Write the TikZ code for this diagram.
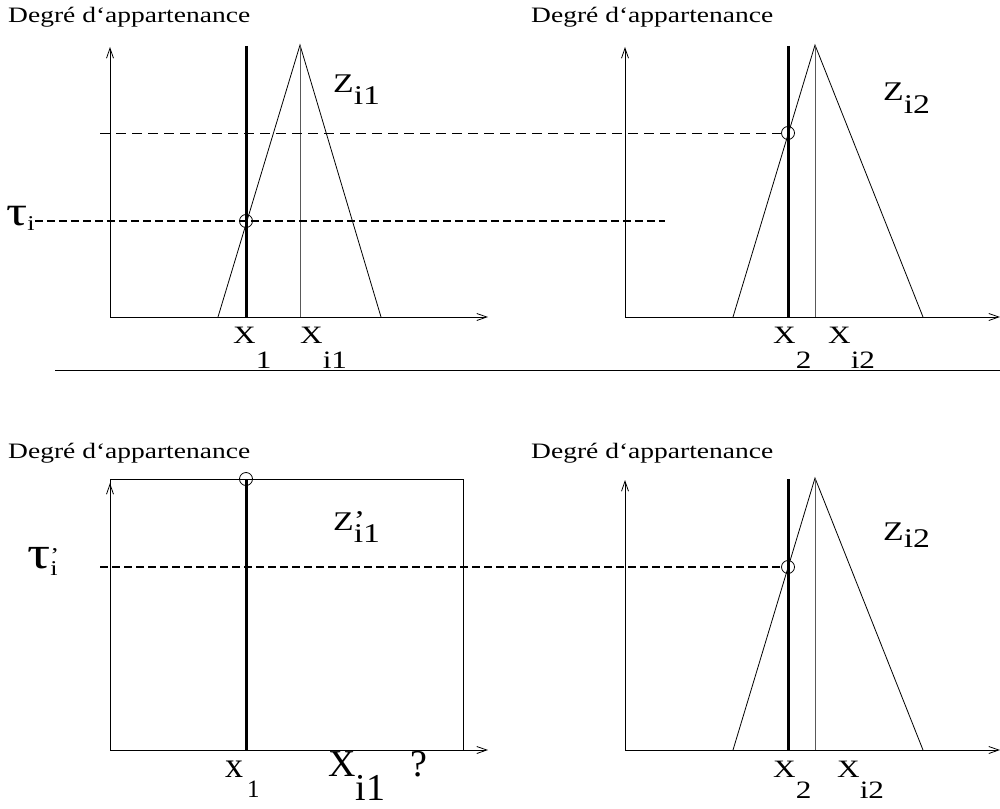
\documentclass[tikz,border=0pt]{standalone}
\usepackage{fontspec}
\setmainfont{Liberation Serif}
\newfontfamily\widefont[FakeStretch=1.25]{Liberation Serif}
\usetikzlibrary{arrows.meta}

\begin{document}
\begin{tikzpicture}[x=1pt,y=-1pt,
  every node/.style={inner sep=0pt,anchor=base west},
  degre/.style={font=\widefont\fontsize{22}{26}\selectfont},
  lbl/.style={font=\widefont\fontsize{25}{30}\selectfont},
  zlbl/.style={font=\widefont\fontsize{27}{32}\selectfont},
  biglbl/.style={font=\fontsize{38}{44}\selectfont},
  axis/.style={line width=0.8pt,-{Straight Barb[length=10pt,width=7pt]}},
  apexline/.style={line width=0.8pt,black!65},
  cursor/.style={line width=3pt},
  thindash/.style={line width=0.8pt,dash pattern=on 10pt off 6pt},
  taudash/.style={line width=2.5pt,dash pattern=on 8pt off 4pt},
  cutpt/.style={circle,draw,line width=0.8pt,minimum size=13pt,anchor=center}]
\useasboundingbox (0,0) rectangle (1000,808);
\foreach \lx/\ly in {8/23, 531/23, 8/458, 531/458}
  \node[degre] (deg\lx\ly) at (\lx,\ly) {Degré d‘appartenance};

% upper left : Z_i1
\draw[axis] (110,317) -- (488,317);
\draw[axis] (110,317) -- (110,47);
\draw[line width=0.8pt] (218,317) -- (300,45) -- (381,317);
\draw[apexline] (300,45) -- (300,317);
\draw[cursor] (246,46) -- (246,317);
\node[cutpt] (cut1) at (246,221) {};
\node[zlbl] (zi1) at (333,92) {Z\raisebox{-13pt}{i1}};
\node[lbl] (xone) at (233,343) {X\raisebox{-25pt}{1}};
\node[lbl] (xi1) at (300,343) {X\raisebox{-25pt}{i1}};
\node[font=\widefont\fontsize{42}{46}\selectfont] (tau) at (6,225) {τ\raisebox{-5pt}{\fontsize{21}{24}\selectfont i}};

% upper right and lower right : Z_i2
\foreach \dy/\n in {0/a, 433/b} {
  \draw[axis] (625,317+\dy) -- (1000,317+\dy);
  \draw[axis] (625,317+\dy) -- (625,47+\dy);
  \draw[line width=0.8pt] (733,317+\dy) -- (815,45+\dy) -- (923,317+\dy);
  \draw[apexline] (815,45+\dy) -- (815,317+\dy);
  \draw[cursor] (788,46+\dy) -- (788,317+\dy);
}
\node[cutpt] (cut2) at (788,133) {};
\node[zlbl] (zi2a) at (883,100) {Z\raisebox{-13pt}{i2}};
\node[lbl] (xtwoa) at (773,343) {X\raisebox{-25pt}{2}};
\node[lbl] (xi2a) at (828,343) {X\raisebox{-25pt}{i2}};

\coordinate (tauend) at (665,221);
\draw[thindash] (100,133) -- (cut2.west);
\draw[taudash] (tau.east |- cut1.center) -- (tauend);

% separator
\draw[line width=0.8pt] (55,370) -- (1000,370);

% lower left : Z'_i1
\draw[line width=0.8pt] (110,479) rectangle (463,750);
\draw[axis] (110,750) -- (488,750);
\draw[axis] (110,750) -- (110,483);
\draw[cursor] (246,479) -- (246,750);
\node[cutpt] (cut3) at (246,479) {};
\node[zlbl] (zpi1) at (333,530) {Z\rlap{\raisebox{1pt}{’}}\raisebox{-12pt}{i1}};
\node[font=\fontsize{36}{40}\selectfont] (xoneb) at (225,777) {x\kern4pt\raisebox{-20pt}{\fontsize{25}{30}\selectfont 1}};
\node[biglbl] (xbig) at (328,776) {X\raisebox{-24pt}{i1}};
\node[biglbl] (quest) at (410,776) {?};
\node[font=\widefont\fontsize{46}{50}\selectfont] (taup) at (27,568) {τ\fontsize{21}{24}\selectfont\rlap{\raisebox{6pt}{’}}\raisebox{-7pt}{i}};

% lower right labels
\node[cutpt] (cut4) at (788,567) {};
\node[zlbl] (zi2b) at (883,540) {Z\raisebox{-7pt}{i2}};
\node[lbl] (xtwob) at (773,777) {X\raisebox{-21pt}{2}};
\node[lbl] (xi2b) at (837,777) {X\raisebox{-21pt}{i2}};
\draw[taudash] (100,567) -- (cut4.west);
\end{tikzpicture}
\end{document}
